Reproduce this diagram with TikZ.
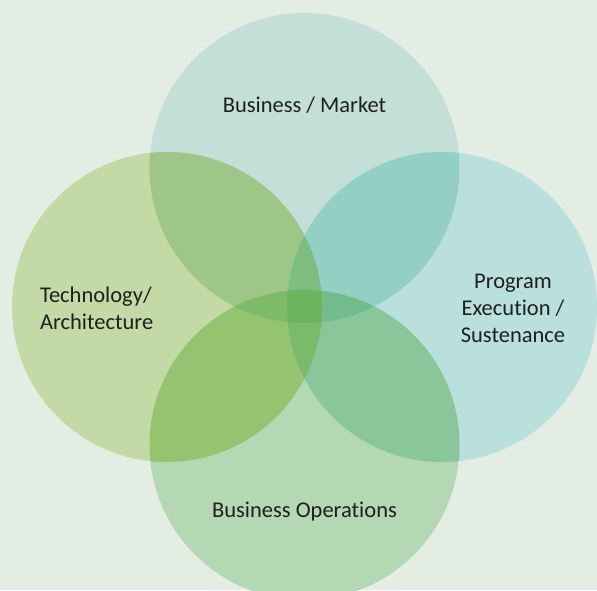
\documentclass[tikz,border=0pt]{standalone}
\usepackage{fontspec}
\setmainfont[Ligatures=NoCommon]{Carlito}

\definecolor{bgcol}{HTML}{E3EDE3}
\definecolor{mktcol}{HTML}{C3DFD8}
\definecolor{teccol}{HTML}{C3DAA6}
\definecolor{prgcol}{HTML}{BAE0DE}
\definecolor{opscol}{HTML}{B3D8B3}
\definecolor{mkttec}{HTML}{9DC688}
\definecolor{mktprg}{HTML}{93CFC5}
\definecolor{tecops}{HTML}{95C470}
\definecolor{prgops}{HTML}{89C699}
\definecolor{mkttecprg}{HTML}{7DBE80}
\definecolor{mkttecops}{HTML}{7EBB68}
\definecolor{mktprgops}{HTML}{72BB8C}
\definecolor{tecprgops}{HTML}{79BA6B}
\definecolor{allcol}{HTML}{6CB55E}

% the four circles
\def\mkt{(304.5,168) circle (155)}
\def\tec{(167,307) circle (155)}
\def\prg{(442,307) circle (155)}
\def\ops{(304.5,445) circle (155)}

\begin{document}
\begin{tikzpicture}[x=1pt,y=-1pt,
    lbl/.style={font=\fontsize{22.5}{27}\selectfont, text=black!88, align=center}]

  \fill[bgcol] (0,0) rectangle (597,590);
  \useasboundingbox (0,0) rectangle (597,590);

  % single sets
  \fill[mktcol] \mkt;
  \fill[teccol] \tec;
  \fill[prgcol] \prg;
  \fill[opscol] \ops;

  % two sets
  \begin{scope} \clip \mkt; \fill[mkttec] \tec; \end{scope}
  \begin{scope} \clip \mkt; \fill[mktprg] \prg; \end{scope}
  \begin{scope} \clip \tec; \fill[tecops] \ops; \end{scope}
  \begin{scope} \clip \prg; \fill[prgops] \ops; \end{scope}

  % three sets
  \begin{scope} \clip \mkt; \clip \tec; \fill[mkttecprg] \prg; \end{scope}
  \begin{scope} \clip \mkt; \clip \tec; \fill[mkttecops] \ops; \end{scope}
  \begin{scope} \clip \mkt; \clip \prg; \fill[mktprgops] \ops; \end{scope}
  \begin{scope} \clip \tec; \clip \prg; \fill[tecprgops] \ops; \end{scope}

  % all four
  \begin{scope} \clip \mkt; \clip \tec; \clip \prg; \fill[allcol] \ops; \end{scope}

  \begin{scope}[every node/.style={lbl}]
    \node (market) at (304.5,105) {Business / Market};
    \node[align=left, anchor=west] (tech) at (36.5,308) {Technology/\\Architecture};
    \node (program) at (513,308) {Program\\Execution /\\Sustenance};
    \node (ops) at (304.5,512) {Business Operations};
  \end{scope}

\end{tikzpicture}
\end{document}
